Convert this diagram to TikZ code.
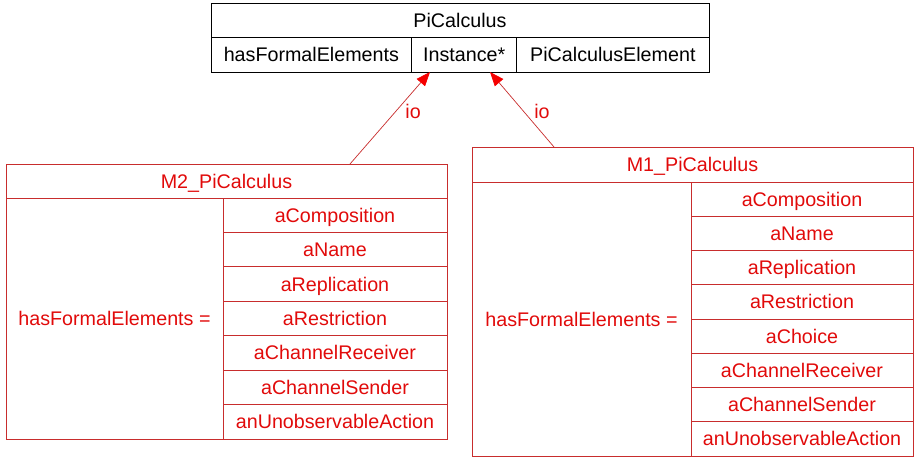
\documentclass[tikz,border=0pt]{standalone}
\usepackage{fontspec}
\setmainfont{Liberation Sans}
\usetikzlibrary{arrows.meta}
\definecolor{lred}{RGB}{200,45,45}
\definecolor{tred}{RGB}{225,10,10}
\definecolor{ared}{RGB}{245,0,0}
\begin{document}
\begin{tikzpicture}[x=1pt,y=-1pt,
  every node/.style={font=\fontsize{19.7}{22}\selectfont, inner sep=0pt, text height=14.1pt, text depth=0pt},
  kcell/.style={draw=black, line width=0.9pt},
  rcell/.style={draw=lred, line width=0.9pt, text=tred},
  rtext/.style={text=tred},
  conn/.style={draw=lred, line width=0.7pt, -{Triangle[length=14pt,width=11pt,color=ared,fill=ared]}},
]
\useasboundingbox (0,0) rectangle (914,458);
% top class
\node[kcell, minimum width=498pt, minimum height=34pt] (pi) at (460,20) {PiCalculus};
\node[kcell, minimum width=200.7pt, minimum height=35pt] (hfe) at (311.35,54.5) {hasFormalElements};
\node[kcell, minimum width=105pt, minimum height=35pt] (inst) at (464.2,54.5) {Instance*};
\node[kcell, minimum width=192.3pt, minimum height=35pt] (pce) at (612.85,54.5) {PiCalculusElement};
% M2
\node[rcell, minimum width=441pt, minimum height=34pt] (m2) at (226.5,181) {M2\_PiCalculus};
\node[rcell, minimum width=217pt, minimum height=241pt] (m2l) at (114.5,318.5) {hasFormalElements =};
\foreach \t [count=\i] in {aComposition,aName,aReplication,aRestriction,aChannelReceiver,aChannelSender,anUnobservableAction}
  \node[rcell, minimum width=224pt, minimum height=34.43pt] (m2r\i) at (335,{198+34.43*(\i-0.5)}) {\t};
% M1
\node[rcell, minimum width=441pt, minimum height=35pt] (m1) at (692.5,164.5) {M1\_PiCalculus};
\node[rcell, minimum width=219pt, minimum height=274pt] (m1l) at (581.5,319) {hasFormalElements =};
\foreach \t [count=\i] in {aComposition,aName,aReplication,aRestriction,aChoice,aChannelReceiver,aChannelSender,anUnobservableAction}
  \node[rcell, minimum width=222pt, minimum height=34.25pt] (m1r\i) at (802,{182+34.25*(\i-0.5)}) {\t};
% connectors
\coordinate (s2) at (350,164);
\coordinate (s1) at (554,147);
\coordinate (t2) at (430,72);
\coordinate (t1) at (490,72);
\draw[conn] (s2) -- (t2) node[rtext, pos=0.576, xshift=17pt] (io2) {io};
\draw[conn] (s1) -- (t1) node[rtext, pos=0.48, xshift=18.7pt] (io1) {io};
\end{tikzpicture}
\end{document}
